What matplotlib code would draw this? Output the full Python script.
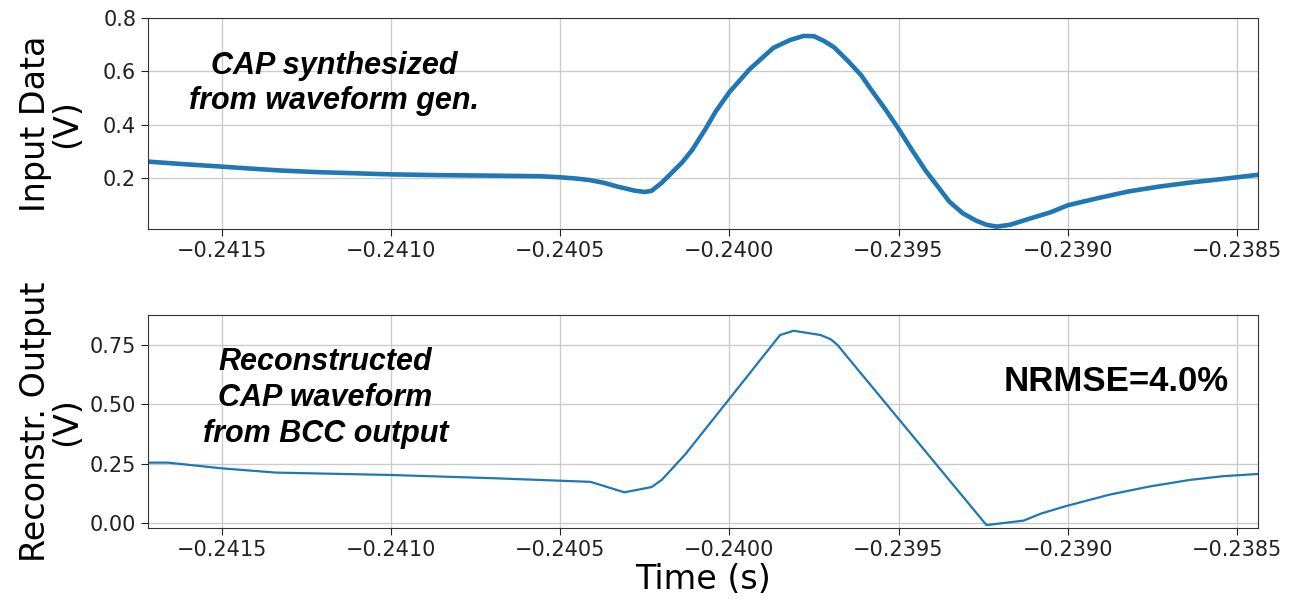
import numpy as np
import matplotlib
matplotlib.use("Agg")
import matplotlib.pyplot as plt
from matplotlib.ticker import FuncFormatter

# input CAP waveform (from waveform generator), time in s, voltage in V
t_in = [-0.24172, -0.24161, -0.24150, -0.24142, -0.24132, -0.24121, -0.24100,
        -0.24086, -0.24069, -0.24056, -0.24050, -0.24045, -0.24041, -0.24037,
        -0.24033, -0.24028, -0.24025, -0.24023, -0.24020, -0.24017, -0.24014,
        -0.24011, -0.24007, -0.24004, -0.24000, -0.23994, -0.23987, -0.23982,
        -0.23978, -0.23975, -0.23972, -0.23969, -0.23965, -0.23961, -0.23958,
        -0.23954, -0.23950, -0.23946, -0.23942, -0.23938, -0.23935, -0.23931,
        -0.23927, -0.23924, -0.23921, -0.23917, -0.23912, -0.23905, -0.23900,
        -0.23891, -0.23882, -0.23873, -0.23864, -0.23854, -0.23844]
v_in = [0.262, 0.252, 0.243, 0.236, 0.228, 0.222, 0.214,
        0.211, 0.209, 0.207, 0.203, 0.198, 0.192, 0.182,
        0.168, 0.153, 0.148, 0.152, 0.182, 0.220, 0.258,
        0.305, 0.385, 0.450, 0.522, 0.608, 0.688, 0.718,
        0.733, 0.732, 0.714, 0.690, 0.640, 0.585, 0.530,
        0.460, 0.385, 0.305, 0.228, 0.162, 0.112, 0.068,
        0.040, 0.025, 0.018, 0.025, 0.045, 0.072, 0.098,
        0.125, 0.150, 0.168, 0.183, 0.197, 0.212]

# reconstructed waveform from BCC output
t_rec = [-0.24172, -0.24166, -0.24150, -0.24134, -0.24100, -0.24069, -0.24041,
         -0.24031, -0.24023, -0.24020, -0.24017, -0.24013, -0.23985, -0.23981,
         -0.23973, -0.23970, -0.23968, -0.23966, -0.23924, -0.23913, -0.23908,
         -0.23901, -0.23888, -0.23876, -0.23864, -0.23854, -0.23844]
v_rec = [0.255, 0.255, 0.231, 0.213, 0.203, 0.189, 0.174,
         0.130, 0.152, 0.182, 0.228, 0.290, 0.792, 0.810,
         0.792, 0.774, 0.750, 0.715, -0.008, 0.011, 0.040,
         0.070, 0.119, 0.154, 0.182, 0.198, 0.207]

xticks = [-0.2415, -0.2410, -0.2405, -0.2400, -0.2395, -0.2390, -0.2385]
yticks_in = [0.2, 0.4, 0.6, 0.8]
yticks_rec = [0.00, 0.25, 0.50, 0.75]

blue = "#1f77b4"
ann_font = "Liberation Sans"

fig = plt.figure(figsize=(13, 6.02), dpi=100)
ax1 = fig.add_axes([0.1138, 0.620, 0.8538, 0.350])
ax2 = fig.add_axes([0.1138, 0.123, 0.8538, 0.354])

fmt_t = FuncFormatter(lambda v, p: f"{v:.4f}".replace("-", "\u2212"))

ax1.plot(t_in, v_in, color=blue, lw=3.3, solid_joinstyle="round")
ax1.set_ylim(0.01, 0.8)
ax1.set_yticks(yticks_in)
ax1.yaxis.set_major_formatter(FuncFormatter(lambda v, p: f"{v:.1f}"))
ax1.set_ylabel("Input Data\n(V)", fontsize=24, linespacing=0.95)
ax1.text(0.168, 0.69, "CAP synthesized\nfrom waveform gen.", transform=ax1.transAxes,
         ha="center", va="center", fontsize=22, fontweight="bold", fontstyle="italic",
         family=ann_font, linespacing=1.2)

ax2.plot(t_rec, v_rec, color=blue, lw=1.6)
ax2.set_ylim(-0.02, 0.877)
ax2.set_yticks(yticks_rec)
ax2.yaxis.set_major_formatter(FuncFormatter(lambda v, p: f"{v:.2f}"))
ax2.set_ylabel("Reconstr. Output\n(V)", fontsize=24, linespacing=0.95)
ax2.set_xlabel("Time (s)", fontsize=24, labelpad=2)
ax2.text(0.160, 0.61, "Reconstructed\nCAP waveform\nfrom BCC output", transform=ax2.transAxes,
         ha="center", va="center", fontsize=22, fontweight="bold", fontstyle="italic",
         family=ann_font, linespacing=1.25)
ax2.text(0.872, 0.685, "NRMSE=4.0%", transform=ax2.transAxes, ha="center", va="center",
         fontsize=25, fontweight="bold", family=ann_font)

for ax in (ax1, ax2):
    ax.set_xlim(-0.241718, -0.238438)
    ax.set_xticks(xticks)
    ax.xaxis.set_major_formatter(fmt_t)
    ax.grid(True, color="#cccccc", lw=1)
    ax.tick_params(labelsize=15, colors="#222222", length=5)
    ax.yaxis.set_label_coords(-0.058, 0.5)
    for s in ax.spines.values():
        s.set_color("#333333")

fig.savefig("out.png", dpi=100)
